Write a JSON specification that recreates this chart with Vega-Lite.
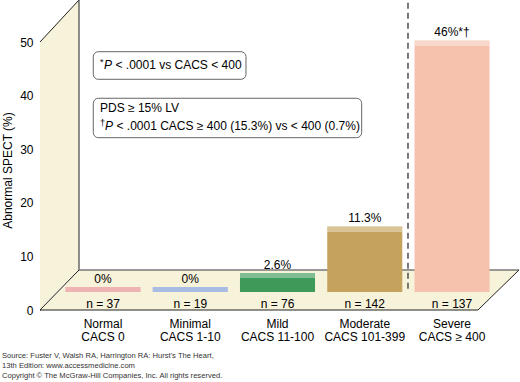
{
  "$schema": "https://vega.github.io/schema/vega-lite/v6.json",
  "width": 475,
  "height": 268,
  "autosize": {"type": "none"},
  "padding": {"left": 40, "top": 42, "right": 5, "bottom": 72},
  "background": "#ffffff",
  "title": {
    "text": ["Source: Fuster V, Walsh RA, Harrington RA: Hurst's The Heart,", "13th Edition: www.accessmedicine.com"],
    "subtitle": "Copyright © The McGraw-Hill Companies, Inc. All rights reserved.",
    "orient": "bottom",
    "anchor": "start",
    "frame": "group",
    "dx": -38,
    "offset": 9,
    "baseline": "top",
    "font": "Liberation Sans",
    "fontSize": 7.6,
    "fontWeight": "normal",
    "color": "#333333",
    "lineHeight": 10.5,
    "subtitleFont": "Liberation Sans",
    "subtitleFontSize": 7.6,
    "subtitleColor": "#333333",
    "subtitlePadding": 2
  },
  "data": {
    "values": [
      {"category": "Normal\nCACS 0", "pct": 0, "label": "0%", "n": 37},
      {"category": "Minimal\nCACS 1-10", "pct": 0, "label": "0%", "n": 19},
      {"category": "Mild\nCACS 11-100", "pct": 2.6, "label": "2.6%", "n": 76},
      {"category": "Moderate\nCACS 101-399", "pct": 11.3, "label": "11.3%", "n": 142},
      {"category": "Severe\nCACS ≥ 400", "pct": 46, "label": "46%*†", "n": 137}
    ]
  },
  "resolve": {"scale": {"x": "independent"}, "axis": {"x": "independent", "y": "independent"}},
  "layer": [
    {
      "data": {"values": [{}]},
      "layer": [
        {
          "mark": {"type": "point", "shape": "M-0.126,1L-0.126,-0.729L0.126,-1L0.126,0.742Z", "size": 96100, "filled": true, "fill": "#f7f2da", "opacity": 1, "strokeWidth": 0},
          "encoding": {
            "x": {"datum": -0.4983, "type": "quantitative", "scale": {"domain": [-0.7216, 4.7194], "nice": false, "zero": false}, "axis": null},
            "y": {"datum": 28.918, "type": "quantitative", "axis": null}
          }
        },
        {
          "mark": {"type": "point", "shape": "M-1,0.0835L0.829,0.0835L1,-0.0835L-0.837,-0.0835Z", "size": 229441, "filled": true, "fill": "#f7f2da", "opacity": 1, "strokeWidth": 0},
          "encoding": {
            "x": {"datum": 2.0218, "type": "quantitative", "scale": {"domain": [-0.7216, 4.7194], "nice": false, "zero": false}, "axis": null},
            "y": {"datum": 3.731, "type": "quantitative", "axis": null}
          }
        },
        {
          "mark": {"type": "rule", "color": "#222222", "strokeWidth": 1},
          "encoding": {
            "x": {"datum": -0.7216, "type": "quantitative", "scale": {"domain": [-0.7216, 4.7194], "nice": false, "zero": false}, "axis": null},
            "y": {"datum": 50, "type": "quantitative", "axis": null},
            "x2": {"datum": -0.2749},
            "y2": {"datum": 57.836}
          }
        },
        {
          "mark": {"type": "rule", "color": "#222222", "strokeWidth": 1},
          "encoding": {
            "x": {"datum": -0.7216, "type": "quantitative", "scale": {"domain": [-0.7216, 4.7194], "nice": false, "zero": false}, "axis": null},
            "y": {"datum": 0, "type": "quantitative", "axis": null},
            "x2": {"datum": -0.2749},
            "y2": {"datum": 7.463}
          }
        },
        {
          "mark": {"type": "rule", "color": "#444444", "strokeWidth": 1.2},
          "encoding": {
            "x": {"datum": -0.2749, "type": "quantitative", "scale": {"domain": [-0.7216, 4.7194], "nice": false, "zero": false}, "axis": null},
            "y": {"datum": 7.463, "type": "quantitative", "axis": null},
            "y2": {"datum": 57.836}
          }
        },
        {
          "mark": {"type": "rule", "color": "#777777", "strokeWidth": 1.6},
          "encoding": {
            "x": {"datum": -0.2749, "type": "quantitative", "scale": {"domain": [-0.7216, 4.7194], "nice": false, "zero": false}, "axis": null},
            "y": {"datum": 7.463, "type": "quantitative", "axis": null},
            "x2": {"datum": 4.7652}
          }
        },
        {
          "mark": {"type": "rule", "color": "#222222", "strokeWidth": 1},
          "encoding": {
            "x": {"datum": -0.7216, "type": "quantitative", "scale": {"domain": [-0.7216, 4.7194], "nice": false, "zero": false}, "axis": null},
            "y": {"datum": 0, "type": "quantitative", "axis": null},
            "x2": {"datum": 4.2955}
          }
        },
        {
          "mark": {"type": "rule", "color": "#222222", "strokeWidth": 1},
          "encoding": {
            "x": {"datum": 4.2955, "type": "quantitative", "scale": {"domain": [-0.7216, 4.7194], "nice": false, "zero": false}, "axis": null},
            "y": {"datum": 0, "type": "quantitative", "axis": null},
            "x2": {"datum": 4.7652},
            "y2": {"datum": 7.463}
          }
        },
        {
          "mark": {"type": "rule", "color": "#333333", "strokeWidth": 1.3, "strokeDash": [6, 4]},
          "encoding": {
            "x": {"datum": 3.4937, "type": "quantitative", "scale": {"domain": [-0.7216, 4.7194], "nice": false, "zero": false}, "axis": null},
            "y": {"datum": 57.3, "type": "quantitative", "axis": null},
            "y2": {"datum": 3.73}
          }
        }
      ]
    },
    {
      "encoding": {
        "x": {
          "field": "category",
          "type": "nominal",
          "sort": null,
          "scale": {"paddingInner": 0.14, "paddingOuter": 0.2916},
          "axis": {
            "title": null,
            "orient": "bottom",
            "domain": false,
            "ticks": false,
            "labelAngle": 0,
            "labelPadding": 8,
            "labelFontSize": 12,
            "labelLineHeight": 13.5,
            "labelColor": "#000000",
            "labelExpr": "split(datum.label, '\\n')"
          }
        }
      },
      "layer": [
        {
          "mark": {"type": "bar", "yOffset": -18, "y2Offset": -18},
          "encoding": {
            "y": {
              "field": "pct",
              "type": "quantitative",
              "scale": {"domain": [0, 50], "nice": false},
              "axis": {
                "title": "Abnormal SPECT (%)",
                "values": [0, 10, 20, 30, 40, 50],
                "grid": false,
                "ticks": false,
                "labelPadding": 7,
                "labelFontSize": 12,
                "labelColor": "#000000",
                "domainColor": "#222222",
                "titleFontSize": 12,
                "titleFontWeight": "normal",
                "titleColor": "#000000",
                "titleX": -26,
                "titleY": 128,
                "titleAlign": "center"
              }
            },
            "color": {
              "field": "category",
              "type": "nominal",
              "sort": null,
              "scale": {"range": ["#e68a8a", "#7b98d6", "#3e9a58", "#c6a35c", "#f6c2ae"]},
              "legend": null
            }
          }
        },
        {
          "mark": {"type": "tick", "orient": "horizontal", "thickness": 5, "size": 75, "yOffset": -20.5, "opacity": 1},
          "encoding": {
            "y": {"field": "pct", "type": "quantitative"},
            "color": {"field": "category", "type": "nominal", "sort": null, "legend": null}
          }
        },
        {
          "mark": {"type": "tick", "orient": "horizontal", "thickness": 5, "size": 75, "yOffset": -20.5, "color": "#ffffff", "opacity": 0.35},
          "encoding": {
            "y": {"field": "pct", "type": "quantitative"}
          }
        },
        {
          "mark": {"type": "text", "baseline": "alphabetic", "dy": -27, "fontSize": 12, "color": "#000000"},
          "encoding": {
            "y": {"field": "pct", "type": "quantitative"},
            "text": {"field": "label"}
          }
        },
        {
          "transform": [{"calculate": "'n = ' + datum.n", "as": "nLabel"}],
          "mark": {"type": "text", "baseline": "alphabetic", "dy": -2, "fontSize": 12, "color": "#000000"},
          "encoding": {
            "y": {"datum": 0, "type": "quantitative"},
            "text": {"field": "nLabel"}
          }
        }
      ]
    },
    {
      "data": {"values": [{}]},
      "layer": [
        {
          "mark": {"type": "rect", "fill": "#ffffff", "stroke": "#666666", "strokeWidth": 1, "cornerRadius": 5},
          "encoding": {
            "x": {"datum": -0.1111, "type": "quantitative", "scale": {"domain": [-0.7216, 4.7194], "nice": false, "zero": false}, "axis": null},
            "x2": {"datum": 1.638},
            "y": {"datum": 48.19, "type": "quantitative", "axis": null},
            "y2": {"datum": 43.04}
          }
        },
        {
          "mark": {"type": "rect", "fill": "#ffffff", "stroke": "#666666", "strokeWidth": 1, "cornerRadius": 5},
          "encoding": {
            "x": {"datum": -0.1111, "type": "quantitative", "scale": {"domain": [-0.7216, 4.7194], "nice": false, "zero": false}, "axis": null},
            "x2": {"datum": 2.963},
            "y": {"datum": 39.5, "type": "quantitative", "axis": null},
            "y2": {"datum": 32.15}
          }
        },
        {
          "mark": {"type": "text", "text": "*", "align": "left", "baseline": "alphabetic", "fontSize": 9, "dy": -4, "color": "#000000"},
          "encoding": {
            "x": {"datum": -0.0344, "type": "quantitative", "scale": {"domain": [-0.7216, 4.7194], "nice": false, "zero": false}, "axis": null},
            "y": {"datum": 44.87, "type": "quantitative", "axis": null}
          }
        },
        {
          "mark": {"type": "text", "text": "P", "align": "left", "baseline": "alphabetic", "fontSize": 12, "fontStyle": "italic", "dx": 4, "color": "#000000"},
          "encoding": {
            "x": {"datum": -0.0344, "type": "quantitative", "scale": {"domain": [-0.7216, 4.7194], "nice": false, "zero": false}, "axis": null},
            "y": {"datum": 44.87, "type": "quantitative", "axis": null}
          }
        },
        {
          "mark": {"type": "text", "text": "< .0001 vs CACS < 400", "align": "left", "baseline": "alphabetic", "fontSize": 12, "dx": 15.5, "color": "#000000"},
          "encoding": {
            "x": {"datum": -0.0344, "type": "quantitative", "scale": {"domain": [-0.7216, 4.7194], "nice": false, "zero": false}, "axis": null},
            "y": {"datum": 44.87, "type": "quantitative", "axis": null}
          }
        },
        {
          "mark": {"type": "text", "text": "PDS ≥ 15% LV", "align": "left", "baseline": "alphabetic", "fontSize": 12, "color": "#000000"},
          "encoding": {
            "x": {"datum": -0.0344, "type": "quantitative", "scale": {"domain": [-0.7216, 4.7194], "nice": false, "zero": false}, "axis": null},
            "y": {"datum": 37.0, "type": "quantitative", "axis": null}
          }
        },
        {
          "mark": {"type": "text", "text": "†", "align": "left", "baseline": "alphabetic", "fontSize": 9, "dy": -4, "color": "#000000"},
          "encoding": {
            "x": {"datum": -0.0344, "type": "quantitative", "scale": {"domain": [-0.7216, 4.7194], "nice": false, "zero": false}, "axis": null},
            "y": {"datum": 33.58, "type": "quantitative", "axis": null}
          }
        },
        {
          "mark": {"type": "text", "text": "P", "align": "left", "baseline": "alphabetic", "fontSize": 12, "fontStyle": "italic", "dx": 5, "color": "#000000"},
          "encoding": {
            "x": {"datum": -0.0344, "type": "quantitative", "scale": {"domain": [-0.7216, 4.7194], "nice": false, "zero": false}, "axis": null},
            "y": {"datum": 33.58, "type": "quantitative", "axis": null}
          }
        },
        {
          "mark": {"type": "text", "text": "< .0001 CACS ≥ 400 (15.3%) vs < 400 (0.7%)", "align": "left", "baseline": "alphabetic", "fontSize": 12, "dx": 16.5, "color": "#000000"},
          "encoding": {
            "x": {"datum": -0.0344, "type": "quantitative", "scale": {"domain": [-0.7216, 4.7194], "nice": false, "zero": false}, "axis": null},
            "y": {"datum": 33.58, "type": "quantitative", "axis": null}
          }
        }
      ]
    }
  ],
  "config": {
    "font": "Liberation Sans",
    "view": {"stroke": null}
  }
}
